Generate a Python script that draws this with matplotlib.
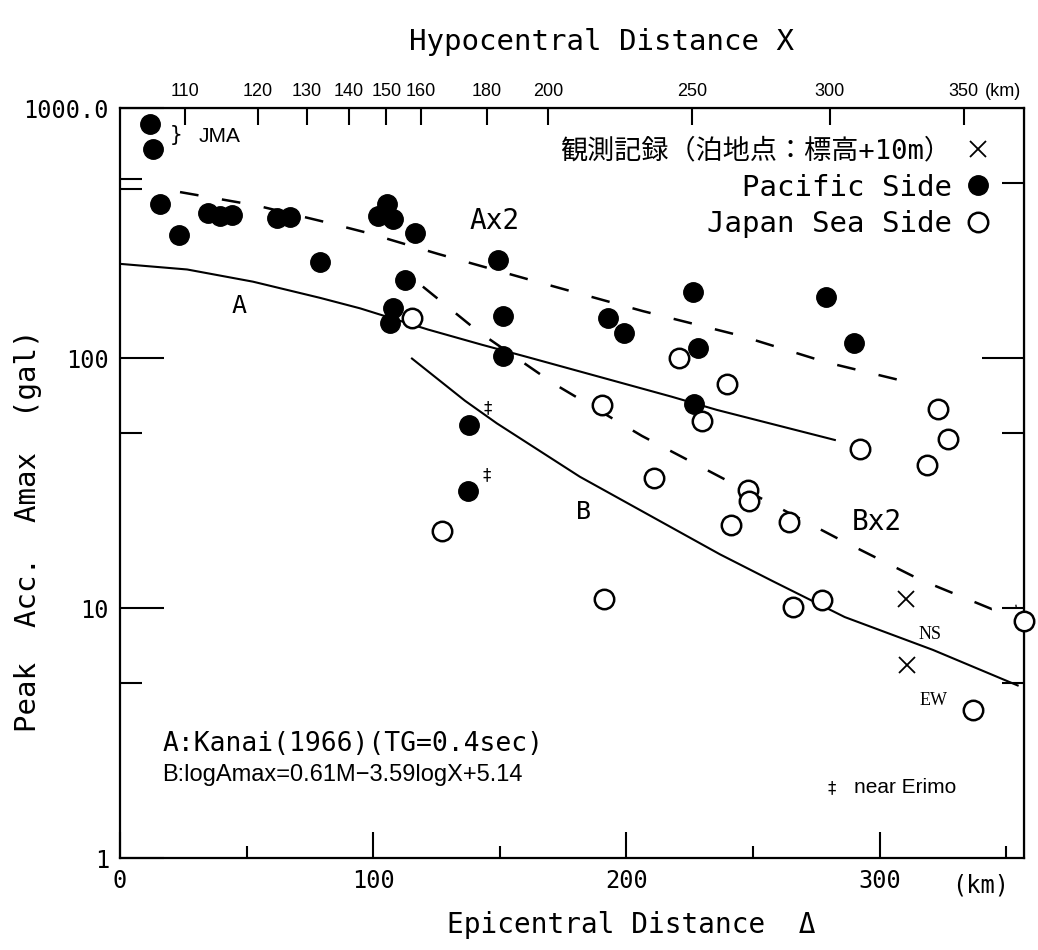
import numpy as np
import matplotlib
matplotlib.use('Agg')
import matplotlib.pyplot as plt
from matplotlib.lines import Line2D
from matplotlib.ticker import NullFormatter

MONO = ['DejaVu Sans Mono', 'Noto Sans CJK JP']
NARROW = ['Liberation Sans', 'DejaVu Sans']
SERIF = ['Liberation Serif', 'DejaVu Serif']

plt.rcParams['font.family'] = MONO

# epicentral distance (km) / peak acceleration (gal)
pacific_d = [11.8, 13.0, 15.8, 23.3, 34.7, 39.5, 44.2, 62.0, 67.1, 79.0,
             101.9, 105.4, 107.8, 116.5, 112.5, 107.8, 106.6, 137.8, 137.4,
             149.2, 151.2, 151.2, 192.7, 199.0, 226.2, 228.2, 226.6, 278.7, 289.8]
pacific_a = [866, 688, 414, 310, 381, 370, 373, 363, 366, 243,
             370, 413, 359, 315, 206, 158, 138, 54, 29.5,
             246, 147, 102, 145, 126, 184, 110, 65.5, 175, 115]

japan_d = [115.3, 127.1, 190.3, 210.8, 191.1, 220.7, 229.8, 239.6, 247.9, 248.3,
           241.2, 264.1, 265.7, 277.1, 292.1, 318.6, 322.9, 326.9, 357.0, 336.8]
japan_a = [144, 20.3, 64.7, 33, 10.9, 100, 56, 79, 29.7, 26.8,
           21.4, 22.1, 10.1, 10.8, 43.2, 37.2, 62.8, 47.6, 8.9, 3.9]

obs_d = [310.3, 310.7]
obs_a = [10.9, 5.9]
obs_lab = ['NS', 'EW']

# attenuation curves
a_d = [0, 26.5, 52.5, 79.0, 94.8, 121.6, 142.9, 160.7, 217.9, 235.7, 282.3]
a_v = [238, 226, 202, 174, 158, 130, 113, 101, 70, 62, 47]
a2_d = [23.7, 54.1, 80.9, 97.5, 125.5, 163.0, 206.5, 244.8, 279.1, 315.8]
a2_v = [461, 407, 350, 317, 261, 204, 154, 123, 96, 78]
b_d = [115.3, 136.2, 148.8, 181.6, 236.9, 257.8, 286.2, 321.0, 354.5]
b_v = [99.5, 67.5, 54.8, 33.5, 16.4, 12.8, 9.2, 6.8, 4.9]
b2_d = [119.6, 141.3, 171.7, 206.1, 239.6, 284.2, 315.8, 344.3, 354.1]
b2_v = [193, 128, 78.5, 48.8, 32.4, 18.8, 13.0, 9.9, 10.2]

erimo_d = [145.3, 144.9]
erimo_a = [63, 34]

hypo_ticks = [110, 120, 130, 140, 150, 160, 180, 200, 250, 300, 350]
H = 107.0  # focal depth used for the top scale


def to_hypo(d):
    return np.sqrt(np.asarray(d, float) ** 2 + H ** 2)


def to_epi(x):
    return np.sqrt(np.clip(np.asarray(x, float) ** 2 - H ** 2, 0, None))


fig = plt.figure(figsize=(10.38, 9.5), dpi=100)
ax = fig.add_axes([120 / 1038, 1 - 858 / 950, 904 / 1038, 750 / 950])
ax.set_yscale('log')
ax.set_xlim(0, 357)
ax.set_ylim(1, 1000)
for s in ax.spines.values():
    s.set_linewidth(1.6)

ax.plot(a_d, a_v, color='k', lw=1.5, zorder=2)
ax.plot(a2_d, a2_v, color='k', lw=1.8, dashes=(7.5, 9.5), zorder=2)
ax.plot(b_d, b_v, color='k', lw=1.5, zorder=2)
ax.plot(b2_d, b2_v, color='k', lw=1.8, dashes=(7.5, 9.5), zorder=2)

ax.plot(pacific_d, pacific_a, 'o', ms=14, color='k', zorder=3)
ax.plot(japan_d, japan_a, 'o', ms=14, mfc='white', mec='k', mew=1.8,
        zorder=4, clip_on=False)
ax.plot(obs_d, obs_a, 'x', ms=12, mew=1.3, color='k', zorder=4)
for d, a, t in zip(obs_d, obs_a, obs_lab):
    ax.text(d + 5, a * 0.78, t, family=SERIF, fontsize=13, va='top', ha='left')

for d, a in zip(erimo_d, erimo_a):
    ax.text(d, a, '‡', family=['DejaVu Sans'], fontsize=12, ha='center', va='center')

# curve labels
ax.text(47, 161, 'A', fontsize=18, ha='center', va='center')
ax.text(148, 353, 'Ax2', fontsize=20, ha='center', va='center')
ax.text(183, 24.3, 'B', fontsize=18, ha='center', va='center')
ax.text(299, 22, 'Bx2', fontsize=20, ha='center', va='center')
ax.text(22, 780, '}', fontsize=15, ha='center', va='center')
ax.text(31, 770, 'JMA', family=NARROW, fontsize=15, ha='left', va='center')

ax.text(16.6, 2.85, 'A:Kanai(1966)(TG=0.4sec)', fontsize=19, ha='left', va='center')
ax.text(16.6, 2.15, 'B:logAmax=0.61M−3.59logX+5.14', family=NARROW, fontsize=17,
        ha='left', va='center')
ax.text(281, 1.91, '‡', family=['DejaVu Sans'], fontsize=12, ha='center', va='center')
ax.text(290, 1.91, 'near Erimo', family=NARROW, fontsize=15, ha='left', va='center')

# left / bottom ticks
ax.set_yticks([1, 10, 100, 1000], ['1', '10', '100', '1000.0'])
ax.set_yticks([5, 50, 474, 520], minor=True)
ax.yaxis.set_minor_formatter(NullFormatter())
ax.tick_params(axis='y', which='major', direction='in', length=32, width=1.5,
               pad=8, labelsize=17)
ax.tick_params(axis='y', which='minor', direction='in', length=16, width=1.5)
ax.set_xticks([0, 100, 200, 300], ['0', '100', '200', '300'])
ax.set_xticks([50, 150, 250, 350], minor=True)
ax.tick_params(axis='x', which='major', direction='in', length=19, width=1.5,
               pad=8, labelsize=17)
ax.tick_params(axis='x', which='minor', direction='in', length=9, width=1.5)
ax.text(340, -0.02, '(km)', transform=ax.get_xaxis_transform(), fontsize=17,
        ha='center', va='top')

# right ticks
sec_r = ax.secondary_yaxis('right')
sec_r.set_yticks([100])
sec_r.set_yticks([5, 10, 50, 500], minor=True)
sec_r.tick_params(axis='y', which='major', direction='in', length=30, width=1.5,
                  labelright=False)
sec_r.tick_params(axis='y', which='minor', direction='in', length=16, width=1.5,
                  labelright=False)
sec_r.yaxis.set_minor_formatter(NullFormatter())

# top: hypocentral distance
sec_t = ax.secondary_xaxis('top', functions=(to_hypo, to_epi))
sec_t.set_xticks(hypo_ticks, [str(v) for v in hypo_ticks])
sec_t.tick_params(axis='x', direction='in', length=12, width=1.5, pad=6, labelsize=13)
for lbl in sec_t.get_xticklabels():
    lbl.set_family(NARROW)
ax.text(341.5, 1.0 + 8 / 750, '(km)', transform=ax.get_xaxis_transform(),
        family=NARROW, fontsize=13, ha='left', va='bottom')

sec_t.set_xlabel('Hypocentral Distance X', fontsize=21)
sec_t.xaxis.set_label_coords(0.533, 1.078, transform=ax.transAxes)
ax.set_xlabel('Epicentral Distance  Δ', fontsize=20)
ax.xaxis.set_label_coords(0.566, -0.07)
ax.set_ylabel('Peak  Acc.  Amax  (gal)', fontsize=21)
ax.yaxis.set_label_coords(-0.086, 0.437)

handles = [Line2D([], [], ls='none', marker='x', color='k', ms=12, mew=1.3),
           Line2D([], [], ls='none', marker='o', color='k', ms=14),
           Line2D([], [], ls='none', marker='o', mfc='white', mec='k', mew=1.8, ms=14)]
labels = ['観測記録（泊地点：標高+10m）', 'Pacific Side', 'Japan Sea Side']
leg = ax.legend(handles, labels, loc='upper right', bbox_to_anchor=(0.978, 0.975),
                markerfirst=False, frameon=False, prop={'family': MONO, 'size': 21},
                handlelength=1.0, handletextpad=0.4, labelspacing=0.3,
                borderaxespad=0)
leg.get_texts()[0].set_fontsize(19.5)

fig.savefig('out.png', dpi=100)
